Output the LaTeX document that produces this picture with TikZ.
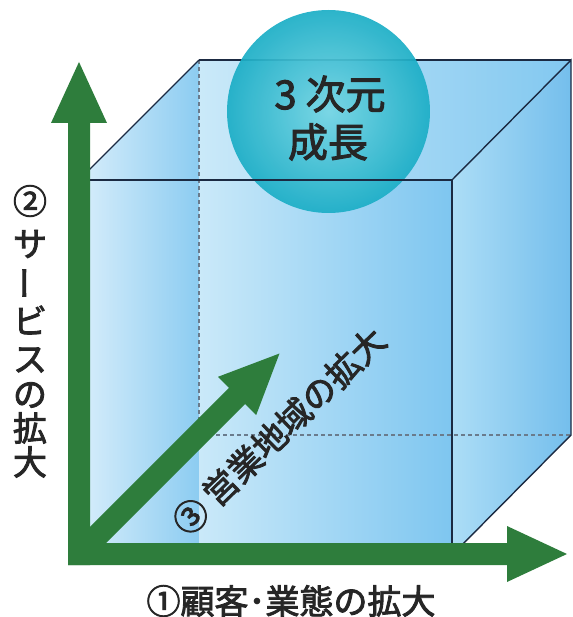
\documentclass[tikz,border=0pt]{standalone}
\usepackage{fontspec}
\newfontfamily\jp{Noto Sans CJK JP}[UprightFeatures={FakeBold=2.5}]
\definecolor{grn}{HTML}{2E7D3C}
\definecolor{edgec}{HTML}{1B2A42}
\definecolor{dashc}{HTML}{6A7B8C}
\definecolor{txt}{HTML}{262626}
\tikzset{
  edge/.style={draw=edgec, line width=1.4pt},
  hidden/.style={draw=dashc, line width=1.2pt, dash pattern=on 4pt off 3pt},
  lbl/.style={inner sep=0pt, text=txt, font=\jp\fontsize{34}{34}\selectfont},
  ctext/.style={inner sep=0pt, text=txt, font=\jp\fontsize{40}{40}\selectfont},
  arrowfill/.style={fill=grn},
}
\begin{document}
\begin{tikzpicture}[x=1pt,y=-1pt]
\useasboundingbox (0,0) rectangle (572,617);
% cube corners
\coordinate (F1) at (79,180);
\coordinate (F2) at (452,180);
\coordinate (F3) at (452,555);
\coordinate (F4) at (79,555);
\coordinate (B1) at (199,60);
\coordinate (B2) at (571,60);
\coordinate (B3) at (571,435);
\coordinate (B4) at (199,435);
% faces
\shade[left color={rgb,255:red,216;green,238;blue,251}, right color={rgb,255:red,140;green,204;blue,241}]
  (F4) -- (F1) -- (B1) -- (199,555) -- cycle;
\shade[left color={rgb,255:red,202;green,233;blue,249}, right color={rgb,255:red,130;green,200;blue,240}]
  (B1) -- (B2) -- (F2) -- (199,180) -- cycle;
\shade[left color={rgb,255:red,202;green,233;blue,249}, right color={rgb,255:red,126;green,198;blue,240}]
  (199,180) rectangle (F3);
\shade[left color={rgb,255:red,172;green,221;blue,246}, right color={rgb,255:red,116;green,190;blue,236}]
  (F2) -- (B2) -- (B3) -- (F3) -- cycle;
% hidden edges
\draw[hidden] (B1) -- (B4) -- (B3);
\draw[hidden] (B4) -- (F4);
% back top edge (under the sphere)
\draw[edge] (B1) -- (B2);
% sphere
\node[circle, minimum size=203pt, inner sep=0pt, inner color={rgb,255:red,118;green,214;blue,228},
  outer color={rgb,255:red,28;green,174;blue,198}, fill opacity=0.93] (sphere) at (328.5,111.5) {};
% front edges
\draw[edge] (F1) -- (B1);
\draw[edge] (F1) -- (F2) -- (F3);
\draw[edge] (F2) -- (B2) -- (B3) -- (F3);
% arrows
\fill[arrowfill] (68,565) -- (68,123) -- (51,123) -- (79,62) -- (107,123) -- (90,123) -- (90,565) -- cycle;
\fill[arrowfill] (68,543) -- (507,543) -- (507,526) -- (567,554) -- (507,582) -- (507,565) -- (68,565) -- cycle;
\fill[arrowfill] (70.9,545.9) -- (229,387.8) -- (218,376.8) -- (279.5,353.5) -- (256.2,415) -- (245.2,404) -- (87.1,562.1) -- cycle;
% sphere text
\node[ctext] (t1) at (330,94) {3 次元};
\node[ctext] (t2) at (328,142) {成長};
% vertical label
\node[lbl] (v1) at (30,201) {②};
\node[lbl] (v2) at (30,244) {サ};
\node[lbl, rotate=90] (v3) at (30,283) {ー};
\node[lbl] (v4) at (30,320) {ビ};
\node[lbl] (v5) at (30,360) {ス};
\node[lbl] (v6) at (30,395) {の};
\node[lbl] (v7) at (30,428) {拡};
\node[lbl] (v8) at (30,462) {大};
% bottom label
\node[lbl] (h) at (291,601) {①顧客･業態の拡大};
% diagonal label
\node[lbl, rotate=44] (d) at (279,431) {③ 営業地域の拡大};
\end{tikzpicture}
\end{document}
